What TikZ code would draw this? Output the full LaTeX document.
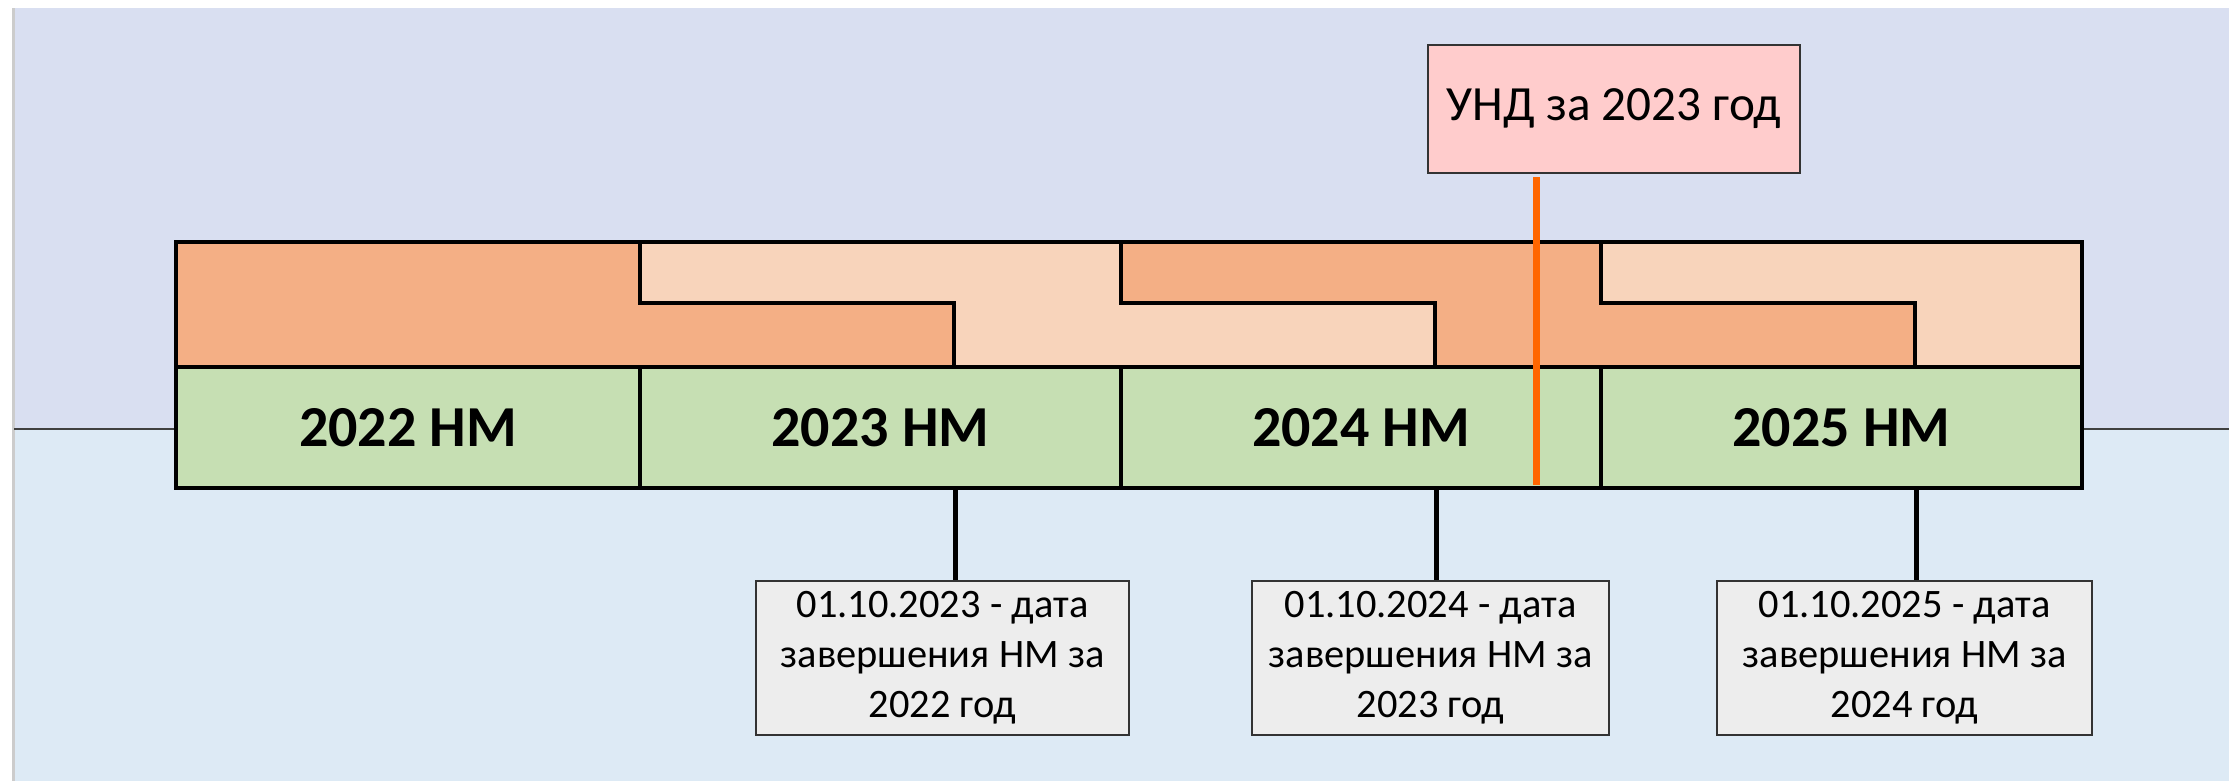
\documentclass[tikz,border=0pt]{standalone}
\usepackage{fontspec}
\setmainfont{Carlito}
\definecolor{bgtop}{HTML}{D9DFF1}
\definecolor{bgbottom}{HTML}{DDEAF5}
\definecolor{banddark}{HTML}{F4AF85}
\definecolor{bandlight}{HTML}{F8D4BB}
\definecolor{yeargreen}{HTML}{C6DFB3}
\definecolor{undpink}{HTML}{FFCCCC}
\definecolor{undline}{HTML}{FF6600}
\definecolor{datefill}{HTML}{EDEDED}
\begin{document}
\begin{tikzpicture}[x=1cm, y=-1cm, line width=0.04cm,
    yearcell/.style={draw, fill=yeargreen, inner sep=0pt, minimum height=1.21cm,
      font=\fontsize{16.5}{19}\selectfont\bfseries},
    undbox/.style={draw=black!80, line width=0.025cm, fill=undpink, inner sep=0pt,
      minimum width=3.72cm, minimum height=1.28cm, font=\fontsize{14}{17}\selectfont},
    datebox/.style={draw=black!80, line width=0.025cm, fill=datefill, align=center,
      inner sep=0pt, minimum height=1.54cm, font=\fontsize{11.5}{14.2}\selectfont}]
  \useasboundingbox (0,0) rectangle (22.29,7.81);
  \fill[bgtop] (0.14,0.08) rectangle (22.29,4.29);
  \fill[bgbottom] (0.14,4.29) rectangle (22.29,7.81);
  \draw[black!20, line width=0.03cm] (0.13,0.08) -- (0.13,7.81);
  \draw[black!75, line width=0.02cm] (0.14,4.29) -- (22.29,4.29);
  % reporting periods
  \foreach \a/\b/\p/\q/\c in {1.76/6.40/1.76/9.54/banddark, 6.40/11.21/9.54/14.35/bandlight,
      11.21/16.01/14.35/19.15/banddark, 16.01/20.82/19.15/20.82/bandlight}
    \filldraw[fill=\c] (\a,2.42) -- (\b,2.42) -- (\b,3.03) -- (\q,3.03) -- (\q,3.67)
      -- (\p,3.67) -- (\p,3.03) -- (\a,3.03) -- cycle;
  \foreach \a/\b/\yr in {1.76/6.40/2022, 6.40/11.21/2023, 11.21/16.01/2024, 16.01/20.82/2025}
    \node[yearcell, minimum width={(\b-\a)*1cm}] (y\yr) at ({(\a+\b)/2},4.275) {\yr~НМ};
  % marker
  \node[undbox] (und) at (16.14,1.09) {УНД за 2023 год};
  \coordinate (undend) at (15.36,4.85);
  \draw[undline, line width=0.07cm, shorten <=0.03cm] (und.south -| undend) -- (undend);
  % deadlines
  \foreach \x/\w/\nd/\yr in {9.425/3.73/2023/2022, 14.305/3.57/2024/2023, 19.045/3.75/2025/2024}
    \node[datebox, minimum width=\w cm] (d\nd) at (\x,6.58) {01.10.\nd{} - дата\\завершения НМ за\\\yr{} год};
  \foreach \s/\nd in {9.55/2023, 14.36/2024, 19.16/2025} {
    \coordinate (s\nd) at (\s,4.88);
    \draw[line width=0.05cm] (s\nd) -- (s\nd |- d\nd.north);
  }
\end{tikzpicture}
\end{document}
